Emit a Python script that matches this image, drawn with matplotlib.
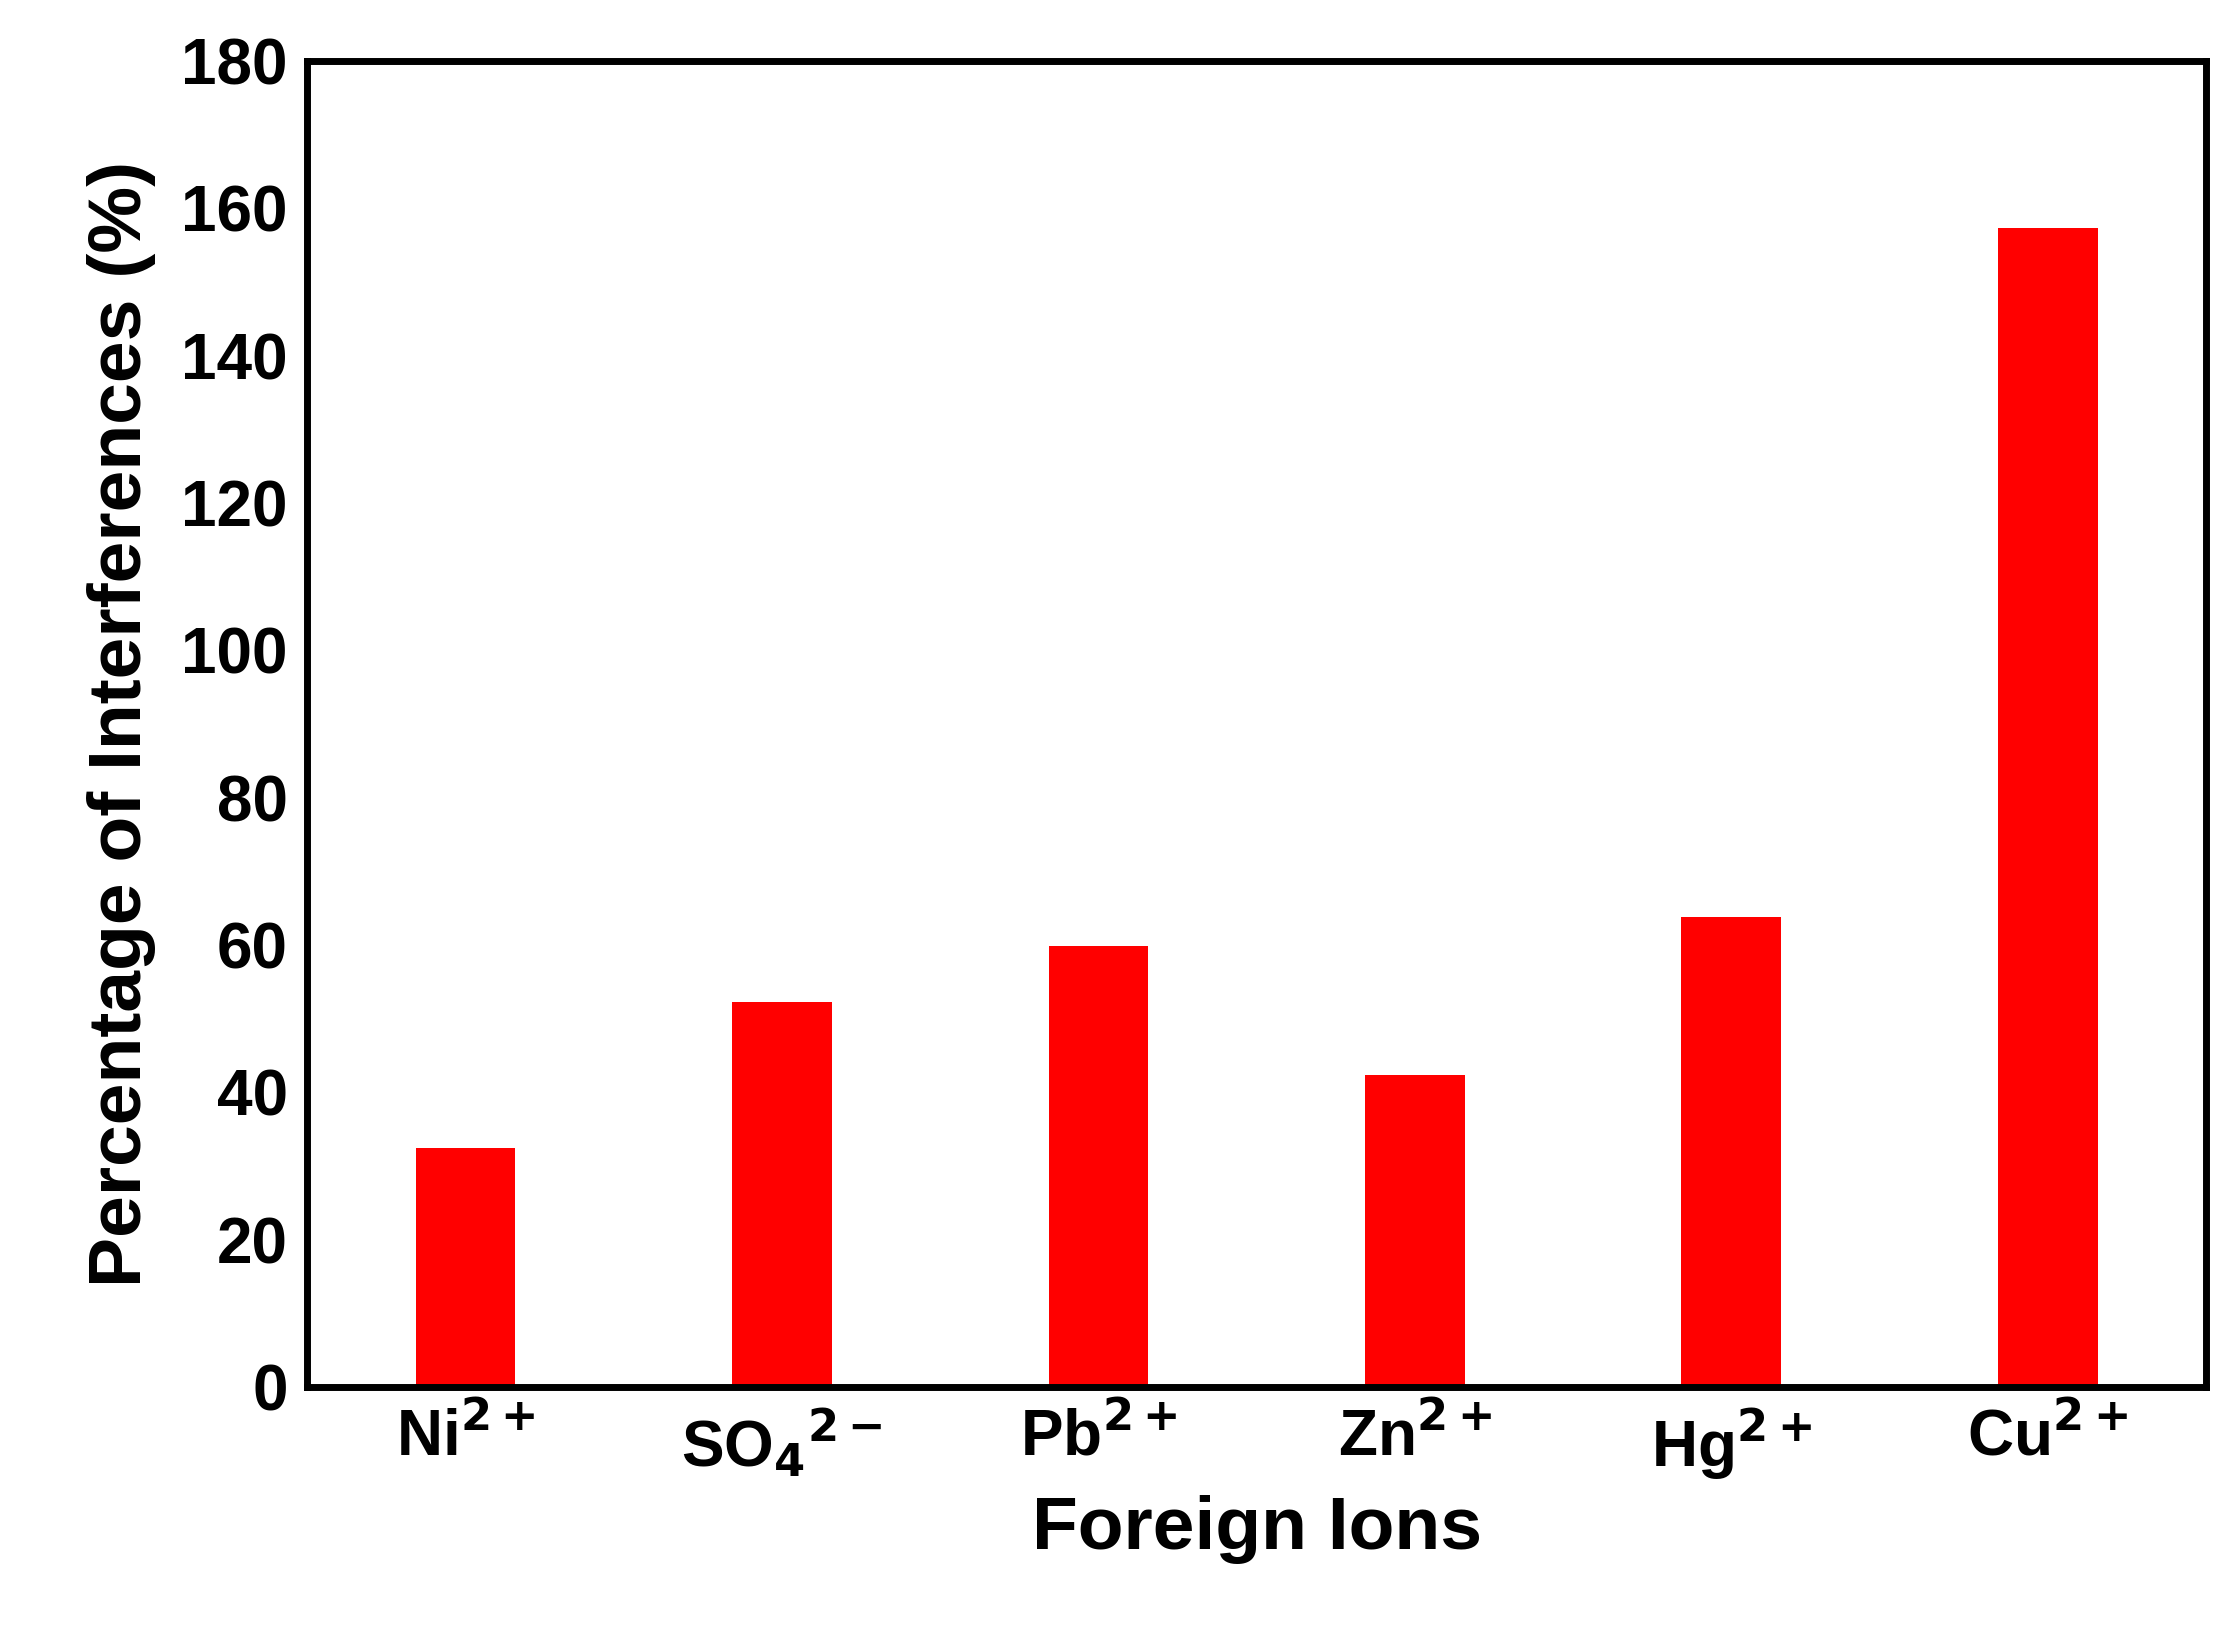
import matplotlib.pyplot as plt

ions = [r'Ni$^{\mathbf{2+}}$', r'SO$_{\mathbf{4}}$$^{\mathbf{2-}}$', r'Pb$^{\mathbf{2+}}$',
        r'Zn$^{\mathbf{2+}}$', r'Hg$^{\mathbf{2+}}$', r'Cu$^{\mathbf{2+}}$']
interference = [32.4, 52.3, 59.9, 42.4, 63.8, 157.4]

plt.rcParams['font.family'] = ['Liberation Sans', 'DejaVu Sans']
plt.rcParams['font.weight'] = 'bold'
plt.rcParams['mathtext.default'] = 'bf'

fig = plt.figure(figsize=(22.26, 16.28), dpi=100)
ax = fig.add_axes([0.138, 0.148, 0.853, 0.8145])
ax.bar(range(len(ions)), interference, width=0.315, color='#ff0000')

ax.set_xlim(-0.5, 5.5)
ax.set_ylim(0, 180)
ax.set_yticks(range(0, 181, 20))
ax.set_xticks(range(len(ions)))
ax.set_xticklabels(ions)
ax.tick_params(length=0, labelsize=46, pad=14)
for s in ax.spines.values():
    s.set_linewidth(5)

ax.set_xlabel('Foreign Ions', fontsize=54, fontweight='bold', labelpad=10)
ax.set_ylabel('Percentage of Interferences (%)', fontsize=54, fontweight='bold', labelpad=18)

fig.savefig('out.png')
